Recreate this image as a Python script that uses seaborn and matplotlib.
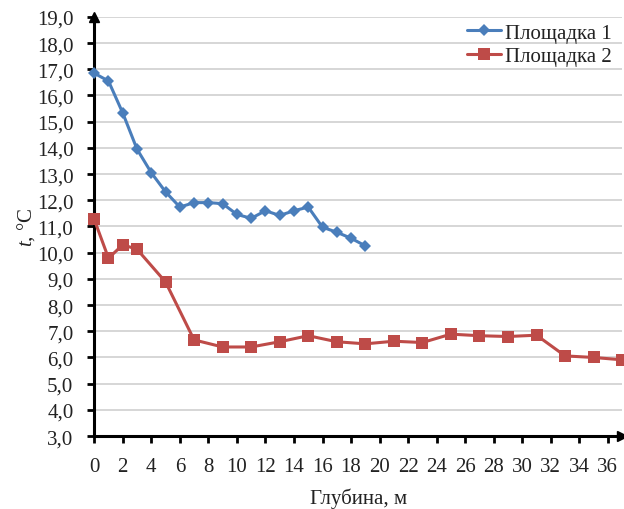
import numpy as np
import pandas as pd
import matplotlib
matplotlib.use("Agg")
import matplotlib.pyplot as plt
import seaborn as sns

# ---- data ----
depth_1 = [0, 1, 2, 3, 4, 5, 6, 7, 8, 9, 10, 11, 12, 13, 14, 15, 16, 17, 18, 19]
temp_1 = [16.85, 16.55, 15.33, 13.95, 13.05, 12.32, 11.74, 11.91, 11.91, 11.87,
          11.46, 11.31, 11.6, 11.42, 11.6, 11.74, 10.97, 10.78, 10.55, 10.26]
depth_2 = [0, 1, 2, 3, 5, 7, 9, 11, 13, 15, 17, 19, 21, 23, 25, 27, 29, 31, 33, 35, 37]
temp_2 = [11.27, 9.79, 10.3, 10.13, 8.88, 6.67, 6.4, 6.4, 6.6, 6.83, 6.6, 6.52,
          6.62, 6.57, 6.89, 6.83, 6.8, 6.85, 6.06, 6.0, 5.91]
series_names = ["Площадка 1", "Площадка 2"]
x_ticks = list(range(0, 37, 2))
y_ticks = list(range(3, 20))
y_tick_labels = [f"{v},0" for v in y_ticks]
x_label = "Глубина, м"
y_label = "$t$, °C"

sns.set_theme(style="white")
plt.rcParams["font.family"] = ["Liberation Serif", "DejaVu Serif"]
plt.rcParams["mathtext.fontset"] = "custom"
plt.rcParams["mathtext.it"] = "Liberation Serif:italic"
plt.rcParams["mathtext.rm"] = "Liberation Serif"

fig = plt.figure(figsize=(6.24, 5.10), dpi=100)
ax = fig.add_axes([0.151, 0.143, 0.846, 0.822])

df1 = pd.DataFrame({"x": depth_1, "y": temp_1})
df2 = pd.DataFrame({"x": depth_2, "y": temp_2})

sns.lineplot(data=df1, x="x", y="y", ax=ax, color="#4A7EBB", marker="D",
             markersize=6.5, markeredgewidth=0, linewidth=2.2, label=series_names[0],
             clip_on=False, zorder=4)
sns.lineplot(data=df2, x="x", y="y", ax=ax, color="#BE4B48", marker="s",
             markersize=8.5, markeredgewidth=0, linewidth=2.2, label=series_names[1],
             clip_on=False, zorder=3)

ax.set_xlim(0, 37)
ax.set_ylim(3, 19)
ax.set_xticks(x_ticks)
ax.set_xticklabels([str(v) for v in x_ticks], fontsize=15)
ax.set_yticks(y_ticks)
ax.set_yticklabels(y_tick_labels, fontsize=15)

ax.yaxis.grid(True, color="#D0D0D0", linewidth=1.2)
ax.xaxis.grid(False)
ax.set_axisbelow(True)

for s in ["top", "right"]:
    ax.spines[s].set_visible(False)
for s in ["left", "bottom"]:
    ax.spines[s].set_color("black")
    ax.spines[s].set_linewidth(2.2)

ax.tick_params(axis="both", which="major", direction="out", length=5, width=2,
               color="black", labelcolor="#222222", bottom=True, left=True)
ax.tick_params(axis="x", pad=10)
ax.tick_params(axis="y", pad=10)

# arrows at ends of axes
ax.plot(1.0, 0, marker=">", color="black", markersize=7, transform=ax.transAxes,
        clip_on=False, zorder=6)
ax.plot(0, 1.0, marker="^", color="black", markersize=7, transform=ax.transAxes,
        clip_on=False, zorder=6)

ax.set_xlabel(x_label, fontsize=15, color="#222222", labelpad=8)
ax.set_ylabel(y_label, fontsize=15, color="#222222", labelpad=0)

leg = ax.legend(loc="upper right", bbox_to_anchor=(1.0, 1.01), frameon=False,
                fontsize=15, handlelength=1.6, handletextpad=0.2, borderaxespad=0.1,
                labelspacing=0.2)
for t in leg.get_texts():
    t.set_color("#222222")

fig.savefig("out.png", dpi=100)
